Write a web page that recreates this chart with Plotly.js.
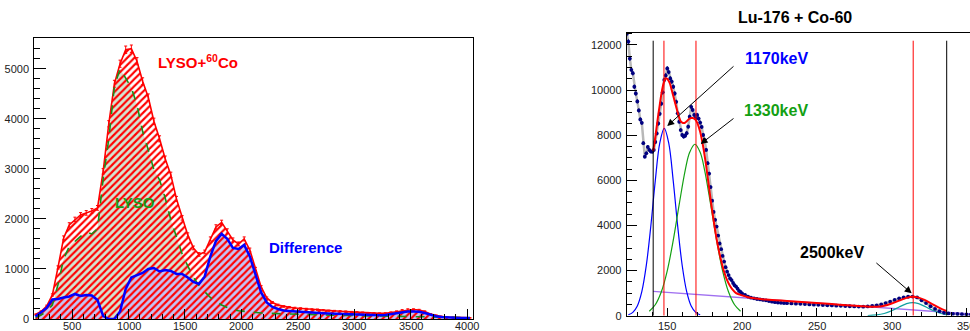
<!DOCTYPE html>
<html><head><meta charset="utf-8">
<script src="https://cdn.plot.ly/plotly-3.0.1.min.js"></script>
<style>html,body{margin:0;padding:0;overflow:hidden;background:#fff}#chart{width:1000px;height:331px}</style>
</head><body><div id="chart"></div>
<script>
// ---------- Left panel: LYSO + 60Co spectra ----------
const chan = [175,225,275,325,375,425,475,525,575,625,675,725,775,825,875,925,975,1025,1075,1125,1175,1225,1275,1325,1375,1425,1475,1525,1575,1625,1675,1725,1775,1825,1875,1925,1975,2025,2075,2125,2175,2225,2275,2325,2375,2425,2475,2525,2575,2625,2675,2725,2775,2825,2875,2925,2975,3025,3075,3125,3175,3225,3275,3325,3375,3425,3475,3525,3575,3625,3675,3725,3775,3825,3875,3925,3975,4025];
const lysoCo = [90,150,260,480,1030,1620,1880,1990,2080,2120,2160,2220,2950,3900,4700,5100,5380,5400,5150,4750,4430,3950,3600,3200,2880,2400,2020,1680,1420,1290,1340,1600,1840,1930,1760,1580,1500,1600,1380,1000,640,420,330,280,250,235,220,210,200,190,185,175,165,160,155,148,140,135,128,120,115,112,115,130,150,175,190,190,180,150,100,70,50,38,32,28,25,22];
const lyso = [30,80,150,280,690,1200,1450,1560,1650,1740,1700,1800,2800,3600,4650,5000,4800,4620,4280,3750,3380,2980,2780,2420,1980,1620,1300,1060,840,660,540,430,350,280,230,185,165,150,140,130,120,115,110,105,100,95,92,90,88,85,82,80,78,75,72,70,68,65,63,60,58,56,55,53,52,50,48,46,45,44,42,40,38,36,34,32,30,28];
const diff = [50,130,220,390,400,430,450,500,460,480,470,380,60,0,0,150,600,830,880,920,1000,1020,950,980,960,900,900,830,740,700,850,1250,1560,1700,1600,1420,1400,1480,1250,880,530,330,240,200,170,160,150,140,130,125,120,115,110,105,100,95,92,90,85,80,78,76,80,95,115,140,150,150,145,120,80,55,40,30,25,22,20,18];
const leftTicks = [500,1000,1500,2000,2500,3000,3500,4000];

// ---------- Right panel: Lu-176 + Co-60 fit ----------
const dataX = [123,124,125,126,127,128,129,130,131,132,133,134,135,136,137,138,139,140,141,142,143,144,145,146,147,148,149,150,151,152,153,154,155,156,157,158,159,160,161,162,163,164,165,166,167,168,169,170,171,172,173,174,175,176,177,178,179,180,181,182,183,184,185,186,187,188,189,190,191,192,193,194,195,196,197,198,199,200,202,204,206,208,210,212,214,216,218,220,222,224,226,228,230,233,236,239,242,245,248,251,254,257,260,263,266,269,272,275,278,281,284,287,290,293,296,299,302,305,308,311,314,317,320,323,326,329,332,335,338,341,344,347,350,353,356,359,362];
const dataY = [12500,12150,11400,10900,10750,10150,9850,9500,9100,8700,8550,7650,7050,7200,7480,7350,7280,7270,7350,7700,8080,8520,8950,9400,9900,10450,10650,10960,10800,10520,10380,10150,9850,9480,8970,8600,8230,8010,7940,7980,8090,8380,8820,9260,9120,8900,8750,8900,8740,8560,8370,8010,7790,7350,6760,6300,5700,5100,4600,4250,3950,3550,3200,2950,2650,2400,2150,1950,1800,1650,1580,1450,1350,1290,1200,1100,1050,990,920,850,800,770,740,720,700,680,650,620,600,580,570,560,555,545,535,525,515,500,490,480,470,460,455,445,440,430,420,410,405,400,410,430,460,500,560,620,700,770,810,840,850,810,680,560,420,300,200,130,100,85,75,65,55,50,45,40,38];

const fitX = [140.6,142,143,144,145,146,147,148,149,150,151,152,153,154,155,156,157,158,159,160,161,162,163,164,165,166,167,168,169,170,171,172,173,174,175,176,177,178,179,180,182,184,186,188,190,192,194,196,198,200,204,208,212,216,220,230,240,250,260,270,280,285,290,295,300,305,310,314,318,322,326,330,334,336.8];
const fitY = [7300,7900,8400,8900,9350,9800,10150,10400,10520,10500,10400,10250,10000,9750,9500,9250,9000,8780,8620,8560,8540,8560,8620,8690,8740,8760,8760,8740,8680,8560,8380,8150,7850,7500,7100,6650,6150,5650,5150,4680,3800,3050,2450,1950,1580,1320,1130,1000,950,900,820,770,740,715,700,655,609,562,514,467,422,402,395,440,540,670,790,838,800,700,560,410,280,210];

const g1170X = [124,127,130,133,136,139,142,145,148,151,154,157,160,163,166,169,172];
const g1170Y = [43,148,430,1065,2227,3960,5975,7645,8300,7645,5975,3960,2227,1065,430,148,43];
const g1330X = [138,142,146,150,154,158,162,165,168.5,172,175,179,183,187,191,195,199];
const g1330Y = [200,486,1048,1990,3337,4934,6443,7244,7600,7244,6443,4934,3337,1990,1048,486,200];
const g2500X = [284,290,295,300,305,310,314,318,323,328,333,336.8];
const g2500Y = [6,33,96,218,387,535,580,535,387,218,96,40];
const bkgX = [140.6,180,220,260,300,340,362];
const bkgY = [1080,893,704,514,325,135,30];
const rightTicks = [150,200,250,300,350];

const peakLines = [147.8,169.2,314.4];
const rangeLines = [140.6,336.8];
const lineTop = 12190;

const W = 1000, H = 331;
const fx = p => p / W, fy = p => (H - p) / H;
const FONT = 'Liberation Sans, Arial, Helvetica, sans-serif';

const traces = [
  {x: chan, y: lyso, mode: 'none', fill: 'tozeroy', fillcolor: '#d3e6d3', xaxis: 'x', yaxis: 'y', hoverinfo: 'skip'},
  {x: chan, y: diff, mode: 'none', fill: 'tozeroy', fillcolor: '#c4c4f6', xaxis: 'x', yaxis: 'y', hoverinfo: 'skip'},
  {x: chan, y: lysoCo, mode: 'lines', line: {color: '#ff0000', width: 1.6}, fill: 'tozeroy', fillcolor: 'rgba(0,0,0,0)',
   fillpattern: {shape: '/', fgcolor: '#ff0000', bgcolor: 'rgba(0,0,0,0)', size: 5, solidity: 0.42, fillmode: 'replace'},
   error_y: {type: 'sqrt', color: '#ff0000', thickness: 1, width: 1.5},
   xaxis: 'x', yaxis: 'y'},
  {x: chan, y: lyso, mode: 'lines', line: {color: '#1a8f1a', width: 1.6, dash: 'dash'}, xaxis: 'x', yaxis: 'y'},
  {x: chan, y: diff, mode: 'lines', line: {color: '#0000ff', width: 2.5}, xaxis: 'x', yaxis: 'y'},

  {x: dataX, y: dataY, mode: 'lines', line: {color: '#b8b8b8', width: 2.5}, xaxis: 'x2', yaxis: 'y2'},
  {x: bkgX, y: bkgY, mode: 'lines', line: {color: '#a070f0', width: 1.3}, xaxis: 'x2', yaxis: 'y2'},
  {x: g1170X, y: g1170Y, mode: 'lines', line: {color: '#0000ff', width: 1.2, shape: 'spline'}, xaxis: 'x2', yaxis: 'y2'},
  {x: g1330X, y: g1330Y, mode: 'lines', line: {color: '#13a013', width: 1.2, shape: 'spline'}, xaxis: 'x2', yaxis: 'y2'},
  {x: g2500X, y: g2500Y, mode: 'lines', line: {color: '#10a0a0', width: 1.2, shape: 'spline'}, xaxis: 'x2', yaxis: 'y2'},
  {x: dataX, y: dataY, mode: 'markers', marker: {color: '#000080', size: 3.8},
   error_y: {type: 'sqrt', color: '#000080', thickness: 1, width: 0}, xaxis: 'x2', yaxis: 'y2'},
  {x: fitX, y: fitY, mode: 'lines', line: {color: '#ff0000', width: 2, shape: 'spline'}, xaxis: 'x2', yaxis: 'y2'}
];

const axisBase = {showline: true, mirror: true, linecolor: '#000', linewidth: 1, showgrid: false, zeroline: false,
  ticks: 'inside', tickcolor: '#000', tickwidth: 1, tickformat: 'd', tickfont: {family: FONT, size: 11, color: '#222'}};

const shapes = [];
peakLines.forEach(v => shapes.push({type: 'line', xref: 'x2', yref: 'y2', x0: v, x1: v, y0: 0, y1: lineTop, line: {color: '#ff0000', width: 1}}));
rangeLines.forEach(v => shapes.push({type: 'line', xref: 'x2', yref: 'y2', x0: v, x1: v, y0: 0, y1: lineTop, line: {color: '#000', width: 1}}));

const txt = (text, px, py, color, size) => ({text, xref: 'paper', yref: 'paper', x: fx(px), y: fy(py),
  xanchor: 'center', yanchor: 'middle', showarrow: false, font: {family: FONT, size, color}});
const arrow = (x, y, ax, ay) => ({xref: 'x2', yref: 'y2', axref: 'x2', ayref: 'y2', x, y, ax, ay, text: '',
  showarrow: true, arrowhead: 2, arrowsize: 1.4, arrowwidth: 1, arrowcolor: '#000'});
const tickLab = (xref, v, py) => ({text: String(v), xref, yref: 'paper', x: v, y: fy(py), xanchor: 'center', yanchor: 'middle',
  showarrow: false, borderpad: 0, font: {family: FONT, size: 11, color: '#222'}});

const layout = {
  width: W, height: H, margin: {l: 0, r: 0, t: 0, b: 0}, showlegend: false,
  paper_bgcolor: '#fff', plot_bgcolor: '#fff',
  xaxis: Object.assign({}, axisBase, {domain: [fx(34.3), fx(472.7)], range: [165, 4050], anchor: 'y', dtick: 500, tick0: 0,
    ticklen: 10, showticklabels: false, minor: {ticks: 'inside', ticklen: 5, dtick: 100, tick0: 0, tickcolor: '#000', showgrid: false}}),
  yaxis: Object.assign({}, axisBase, {domain: [fy(319), fy(37.7)], range: [0, 5620], anchor: 'x', dtick: 1000, tick0: 0,
    ticklen: 12, ticklabelstandoff: 2, minor: {ticks: 'inside', ticklen: 6, dtick: 200, tick0: 0, tickcolor: '#000', showgrid: false}}),
  xaxis2: Object.assign({}, axisBase, {domain: [fx(626.7), fx(985)], range: [122.9, 362.4], anchor: 'y2', dtick: 50, tick0: 0,
    ticklen: 8, showticklabels: false, minor: {ticks: 'inside', ticklen: 4, dtick: 10, tick0: 0, tickcolor: '#000', showgrid: false}}),
  yaxis2: Object.assign({}, axisBase, {domain: [fy(315.7), fy(32.7)], range: [0, 12545], anchor: 'x2', dtick: 2000, tick0: 0,
    ticklen: 10, ticklabelstandoff: 2, minor: {ticks: 'inside', ticklen: 5, dtick: 500, tick0: 0, tickcolor: '#000', showgrid: false}}),
  shapes,
  annotations: [
    txt('<b>LYSO+<sup>60</sup>Co</b>', 197.5, 61, '#ff0000', 15),
    txt('<b>LYSO</b>', 135, 202, '#1a9a1a', 15),
    txt('<b>Difference</b>', 305.5, 247.7, '#0000ff', 15),
    txt('<b>Lu-176 + Co-60</b>', 794.5, 17, '#000', 16),
    txt('<b>1170keV</b>', 777, 59, '#0000ff', 16),
    txt('<b>1330keV</b>', 775.7, 110, '#13a013', 16),
    txt('<b>2500keV</b>', 832, 252.5, '#000', 16),
    arrow(150, 8409, 195.3, 11113),
    arrow(172.3, 7611, 195.3, 8794),
    arrow(313.4, 993, 288.8, 2394)
  ].concat(leftTicks.map(v => tickLab('x', v, 325.5)), rightTicks.map(v => tickLab('x2', v, 325.5)))
};

Plotly.newPlot('chart', traces, layout, {displayModeBar: false, staticPlot: true});
</script>
</body></html>
